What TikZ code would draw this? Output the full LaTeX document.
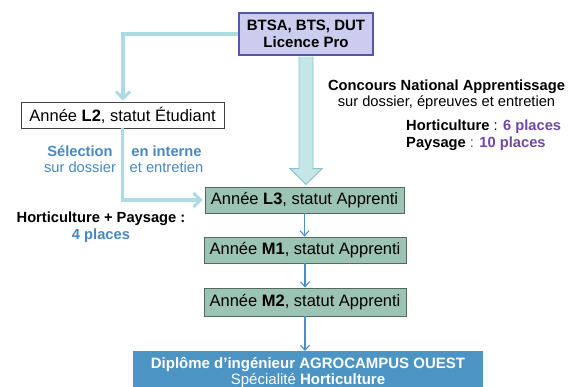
\documentclass[tikz,border=0pt]{standalone}
\usepackage{fontspec}
\setmainfont{Liberation Sans}
\usetikzlibrary{arrows.meta,calc,shadows}
\definecolor{lav}{RGB}{204,204,238}
\definecolor{lavborder}{RGB}{85,85,170}
\definecolor{greenfill}{RGB}{155,196,180}
\definecolor{greenborder}{RGB}{85,105,95}
\definecolor{finalblue}{RGB}{75,148,195}
\definecolor{tealline}{RGB}{172,220,225}
\definecolor{bigfill}{RGB}{196,230,230}
\definecolor{bigborder}{RGB}{140,195,200}
\definecolor{txtblue}{RGB}{72,136,192}
\definecolor{purple1}{RGB}{112,72,164}
\definecolor{arrowblue}{RGB}{72,142,200}
\begin{document}
\begin{tikzpicture}[x=1pt,y=-1pt,
  boxfont/.style={font=\fontsize{16.5}{19}\selectfont},
  lblfont/.style={font=\fontsize{14.7}{16}\selectfont},
  shadowed/.style={drop shadow={shadow xshift=1.2pt,shadow yshift=-1.2pt,opacity=0.25,fill=black}},
  topbox/.style={draw=lavborder,fill=lav,line width=1.3pt,minimum width=134pt,minimum height=42pt,inner sep=0pt,align=center,font=\bfseries\fontsize{15}{17.5}\selectfont,shadowed},
  whitebox/.style={draw=black!75,fill=white,line width=0.9pt,minimum width=203pt,minimum height=26pt,inner sep=0pt,boxfont,shadowed},
  greenbox/.style={draw=greenborder,fill=greenfill,line width=0.9pt,minimum height=26pt,inner sep=0pt,boxfont,shadowed},
  finalbox/.style={fill=finalblue,minimum width=350pt,minimum height=43pt,inner sep=0pt,align=center,text=white,font=\fontsize{15}{16.5}\selectfont},
  tealarrow/.style={draw=tealline,line width=3.6pt,-{Straight Barb[length=7pt,width=14pt,line width=3pt]}},
  smallarrow/.style={draw=arrowblue,line width=1.3pt,-{Straight Barb[length=5pt,width=9pt,line width=1.1pt]}},
  lbl/.style={inner sep=0pt,align=center,lblfont}
]
\useasboundingbox (0,0) rectangle (570,387);

% nodes
\node[topbox] (btsa) at (306,34) {BTSA, BTS, DUT\\Licence Pro};
\node[whitebox] (l2) at (122.5,115) {Année \textbf{L2}, statut Étudiant};
\node[greenbox,minimum width=199pt] (l3) at (304.5,200) {Année \textbf{L3}, statut Apprenti};
\node[greenbox,minimum width=202pt] (m1) at (305,250) {Année \textbf{M1}, statut Apprenti};
\node[greenbox,minimum width=202pt,minimum height=28pt] (m2) at (305,302) {Année \textbf{M2}, statut Apprenti};
\node[finalbox,anchor=north] (final) at (308,351) {\textbf{Diplôme d’ingénieur AGROCAMPUS OUEST}\\Spécialité \textbf{Horticulture}};

% big arrow
\coordinate (tip) at ($(l3.north)+(1.5,-2)$);
\coordinate (s1) at ($(btsa.south)+(-7,1)$);
\coordinate (s2) at ($(btsa.south)+(7,1)$);
\coordinate (h1) at ($(btsa.south)+(-7,113)$);
\coordinate (h2) at ($(btsa.south)+(7,113)$);
\coordinate (w1) at ($(btsa.south)+(-16,113)$);
\coordinate (w2) at ($(btsa.south)+(16,113)$);
\draw[fill=bigfill,draw=bigborder,line width=0.9pt,line join=miter]
  (s1) -- (h1) -- (w1) -- (tip) -- (w2) -- (h2) -- (s2);

% teal connectors
\draw[tealarrow] (btsa.west) -| ($(l2.north)+(0.5,-1)$);
\draw[tealarrow] (l2.south) |- ($(l3.west)+(-2,0)$);

% small arrows
\draw[smallarrow] (l3.south) -- (l3.south |- m1.north);
\draw[smallarrow] (m1.south) -- (m2.north);
\draw[smallarrow] (m2.south) -- (m2.south |- final.north);

% labels
\node[lbl,text=txtblue] (sel) at (80,159) {\textbf{Sélection}\\sur dossier};
\node[lbl,text=txtblue] (interne) at (166.5,159) {\textbf{en interne}\\et entretien};
\node[lbl] (hp) at (101,227) {\textbf{Horticulture + Paysage :}\\[1pt]\textcolor{txtblue}{\textbf{4 places}}};
\node[lbl] (concours) at (446.5,95) {\textbf{Concours National Apprentissage}\\sur dossier, épreuves et entretien};
\node[lbl,align=left,anchor=west] (places) at (406,135.5) {\textbf{Horticulture} : \textcolor{purple1}{\textbf{6 places}}\\[1pt]\textbf{Paysage} \textcolor{purple1}{:} \textcolor{purple1}{\textbf{10 places}}};
\end{tikzpicture}
\end{document}
